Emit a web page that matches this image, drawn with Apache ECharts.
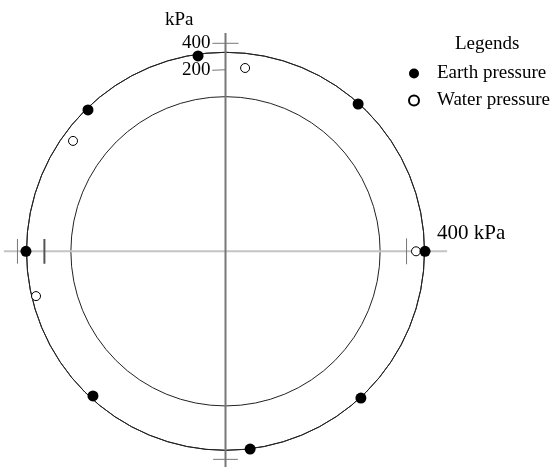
<!DOCTYPE html>
<html>
<head>
<meta charset="utf-8">
<script src="https://cdn.jsdelivr.net/npm/echarts@6/dist/echarts.min.js"></script>
<style>html,body{margin:0;padding:0;background:#fff}#c{width:559px;height:467px}</style>
</head>
<body>
<div id="c"></div>
<script>
// ---- data (kPa, angle in degrees clockwise from top) ----
const earthAngles = [352, 42, 90, 137.3, 172.9, 222.5, 270, 315.8];
const earthValues = [317, 324, 334, 335, 332, 309, 334, 317];
const waterAngles = [6.1, 90, 256.7, 305.9];
const waterValues = [221, 267, 298, 250];
const tickLabelValues = [200, 400];
const innerRingValue = 0;     // lining boundary (0 kPa)
const outerRingValue = 330;   // outer reference ring
const radialMin = -1150;      // value at centre
const axisReach = 500;        // extent of cross-hair axes
const tickDefs = [
  {value: 400, angle: 0,   half: 3.6, color: '#777', width: 1},
  {value: 200, angle: 0,   half: 4.2, left: true, color: '#777', width: 1},
  {value: 200, angle: 90,  half: 4.1, color: '#777', width: 1},
  {value: 400, angle: 180, half: 3.4, color: '#777', width: 1},
  {value: 200, angle: 270, half: 3.9, color: '#555', width: 2},
  {value: 400, angle: 270, half: 3.4, color: '#777', width: 1}
];

const serif = '"Liberation Serif", "Times New Roman", serif';
const chart = echarts.init(document.getElementById('c'), null, {renderer: 'canvas'});

const zip = (vals, angs) => vals.map((v, i) => [v, angs[i]]);
const center = [225.5, 251.3];
const ringRadiusPx = 199;
// data polar shares the same kPa scale as the ring polar
const dataRadiusPx = ringRadiusPx * (axisReach - radialMin) / (outerRingValue - radialMin);

const tickSeries = tickDefs.map(t => ({
  type: 'line', coordinateSystem: 'polar', polarIndex: 0, clip: false, symbol: 'none', silent: true,
  lineStyle: {color: t.color, width: t.width},
  data: [[t.value, t.angle - t.half], [t.value, t.left ? t.angle : t.angle + t.half]],
  z: 3
}));

const hiddenAngle = {
  type: 'value', min: 0, max: 360, startAngle: 90, clockwise: true,
  axisLine: {show: false}, axisTick: {show: false}, axisLabel: {show: false}, splitLine: {show: false}
};

const option = {
  backgroundColor: '#fff',
  animation: false,
  polar: [
    {center: center, radius: dataRadiusPx},
    {center: center, radius: ringRadiusPx}
  ],
  angleAxis: [
    Object.assign({polarIndex: 0}, hiddenAngle),
    Object.assign({}, hiddenAngle, {polarIndex: 1, axisLine: {show: true, lineStyle: {color: '#222', width: 1}}})
  ],
  radiusAxis: [
    {
      polarIndex: 0, type: 'value', min: radialMin, max: axisReach,
      axisLine: {show: false}, axisTick: {show: false}, axisLabel: {show: false}, splitLine: {show: false}
    },
    {
      polarIndex: 1, type: 'value', min: radialMin, max: outerRingValue, interval: innerRingValue - radialMin,
      axisLine: {show: false}, axisTick: {show: false}, axisLabel: {show: false},
      splitLine: {show: true, lineStyle: {color: '#222', width: 1}}
    }
  ],
  legend: {
    orient: 'vertical', left: 408, top: 64, padding: 0, itemWidth: 10, itemHeight: 10, itemGap: 8,
    data: ['Earth pressure', 'Water pressure'],
    formatter: '{t|{name}}',
    textStyle: {
      fontFamily: serif, fontSize: 19, color: '#000', lineHeight: 19,
      rich: {t: {fontFamily: serif, fontSize: 19, color: '#000', padding: [0, 0, 0, 13], lineHeight: 19}}
    }
  },
  graphic: [
    {type: 'text', left: 455, top: 35, style: {text: 'Legends', font: '19px ' + serif, fill: '#000'}},
    {type: 'text', left: 165, top: 11, style: {text: 'kPa', font: '19px ' + serif, fill: '#000'}},
    {type: 'text', left: 437, top: 223, style: {text: '400 kPa', font: '21px ' + serif, fill: '#000'}}
  ],
  series: [
    {
      type: 'line', coordinateSystem: 'polar', polarIndex: 0, clip: false, symbol: 'none', silent: true,
      lineStyle: {color: '#c4c4c4', width: 2},
      data: [[axisReach, 90], [radialMin, 90], [axisReach, 270]], z: 1
    },
    {
      type: 'line', coordinateSystem: 'polar', polarIndex: 0, clip: false, symbol: 'none', silent: true,
      lineStyle: {color: '#777', width: 2},
      data: [[474, 0], [radialMin, 0], [axisReach, 180]], z: 2
    },
    ...tickSeries,
    {
      type: 'scatter', coordinateSystem: 'polar', polarIndex: 0, clip: false, symbolSize: 0, silent: true,
      itemStyle: {opacity: 1},
      data: tickLabelValues.map(v => [v, 0]),
      label: {show: true, position: 'left', distance: 15, formatter: p => String(p.value[0]),
        fontFamily: serif, fontSize: 19, color: '#000', opacity: 1},
      z: 4
    },
    {
      name: 'Earth pressure', type: 'scatter', coordinateSystem: 'polar', polarIndex: 0, clip: false,
      symbol: 'circle', symbolSize: 11,
      itemStyle: {color: '#000', opacity: 1}, data: zip(earthValues, earthAngles), z: 6
    },
    {
      name: 'Water pressure', type: 'scatter', coordinateSystem: 'polar', polarIndex: 0, clip: false,
      symbol: 'circle', symbolSize: 9,
      itemStyle: {color: '#fff', borderColor: '#000', borderWidth: 1, opacity: 1},
      data: zip(waterValues, waterAngles), z: 5
    }
  ]
};
chart.setOption(option);
</script>
</body>
</html>
